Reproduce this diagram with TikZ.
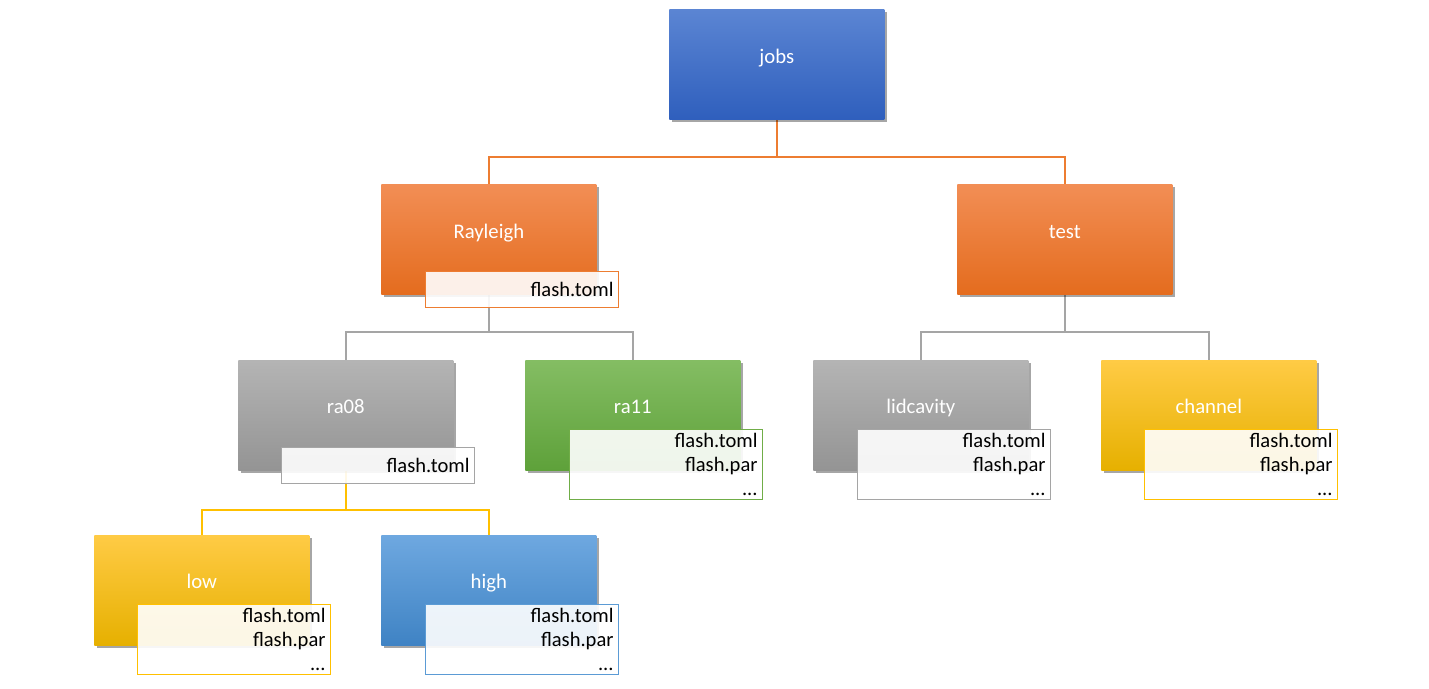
\documentclass[tikz,border=0pt]{standalone}
\usepackage{fontspec}
\setmainfont{Carlito}
\usetikzlibrary{shadows,calc}
\pgfdeclarelayer{background}
\pgfsetlayers{background,main}
\definecolor{bluetop}{HTML}{5B85D3}
\definecolor{bluebot}{HTML}{2F5FBD}
\definecolor{orgtop}{HTML}{F28E55}
\definecolor{orgmid}{HTML}{F07A2E}
\definecolor{orgbot}{HTML}{E46C1E}
\definecolor{graytop}{HTML}{B4B4B4}
\definecolor{graybot}{HTML}{949494}
\definecolor{grntop}{HTML}{84BD63}
\definecolor{grnbot}{HTML}{5EA13A}
\definecolor{yeltop}{HTML}{FFCB45}
\definecolor{yelmid}{HTML}{FFC400}
\definecolor{yelbot}{HTML}{E6B000}
\definecolor{lbtop}{HTML}{6EA8E0}
\definecolor{lbbot}{HTML}{3F83C4}
\definecolor{corg}{HTML}{ED7D31}
\definecolor{cgray}{HTML}{A5A5A5}
\definecolor{cgrn}{HTML}{70AD47}
\definecolor{cyel}{HTML}{FFC000}
\definecolor{cblue}{HTML}{5B9BD5}
\begin{document}
\begin{tikzpicture}[x=0.02cm,y=-0.02cm,
  box/.style={rectangle, minimum width=4.3cm, minimum height=2.2cm, inner sep=0pt, anchor=north west,
    drop shadow={shadow xshift=1.5pt, shadow yshift=-1.5pt, opacity=0.35, fill=black}},
  lbl/.style={text=white, font=\fontsize{11.8}{14}\selectfont, inner sep=0pt, text height=1.65ex, text depth=0.5ex},
  filebox/.style={rectangle, draw=#1, line width=0.6pt, fill=white, fill opacity=0.9, text opacity=1,
    anchor=north west, minimum width=3.86cm, text width=3.86cm-5.6pt, inner xsep=2.8pt, inner ysep=0pt,
    align=right, font=\fontsize{11.7}{13.6}\selectfont},
  conn/.style={line width=1.1pt, draw=#1}
]
\useasboundingbox (0,0) rectangle (1429,689);
% main boxes
\node[box, top color=bluetop, bottom color=bluebot] (jobs) at (669,9) {};
\node[box, top color=orgtop, middle color=orgmid, bottom color=orgbot] (ray) at (381,184) {};
\node[box, top color=orgtop, middle color=orgmid, bottom color=orgbot] (test) at (957,184) {};
\node[box, top color=graytop, bottom color=graybot] (ra08) at (238,360) {};
\node[box, top color=grntop, bottom color=grnbot] (ra11) at (525,360) {};
\node[box, top color=graytop, bottom color=graybot] (lid) at (813,360) {};
\node[box, top color=yeltop, middle color=yelmid, bottom color=yelbot] (chan) at (1101,360) {};
\node[box, top color=yeltop, middle color=yelmid, bottom color=yelbot] (low) at (94,535) {};
\node[box, top color=lbtop, bottom color=lbbot] (high) at (381,535) {};
% labels
\node[lbl] (jobsl) at ($(jobs.north)+(0,50)$) {jobs};
\node[lbl] (rayl) at ($(ray.north)+(0,50)$) {Rayleigh};
\node[lbl] (testl) at ($(test.north)+(0,50)$) {test};
\node[lbl] (ra08l) at ($(ra08.north)+(0,49)$) {ra08};
\node[lbl] (ra11l) at ($(ra11.north)+(0,49)$) {ra11};
\node[lbl] (lidl) at ($(lid.north)+(0,49)$) {lidcavity};
\node[lbl] (chanl) at ($(chan.north)+(0,49)$) {channel};
\node[lbl] (lowl) at ($(low.north)+(0,49)$) {low};
\node[lbl] (highl) at ($(high.north)+(0,49)$) {high};
% file boxes
\node[filebox=corg, minimum height=0.72cm] (rayf) at (425,271) {flash.toml};
\node[filebox=cgray, minimum height=0.72cm] (ra08f) at (281,447) {flash.toml};
\node[filebox=cgrn, minimum height=1.4cm] (ra11f) at (569,429) {flash.toml\\flash.par\\...};
\node[filebox=cgray, minimum height=1.4cm] (lidf) at (857,429) {flash.toml\\flash.par\\...};
\node[filebox=cyel, minimum height=1.4cm] (chanf) at (1144,429) {flash.toml\\flash.par\\...};
\node[filebox=cyel, minimum height=1.4cm] (lowf) at (137,604) {flash.toml\\flash.par\\...};
\node[filebox=cblue, minimum height=1.4cm] (highf) at (425,604) {flash.toml\\flash.par\\...};
% connectors
\begin{pgfonlayer}{background}
\draw[conn=corg] (jobs.south) -- ++(0,37) -| (ray.north);
\draw[conn=corg] (jobs.south) -- ++(0,37) -| (test.north);
\draw[conn=cgray] (ray.south) -- ++(0,37) -| (ra08.north);
\draw[conn=cgray] (ray.south) -- ++(0,37) -| (ra11.north);
\draw[conn=cgray] (test.south) -- ++(0,37) -| (lid.north);
\draw[conn=cgray] (test.south) -- ++(0,37) -| (chan.north);
\draw[conn=cyel] (ra08.south) -- ++(0,39) -| (low.north);
\draw[conn=cyel] (ra08.south) -- ++(0,39) -| (high.north);
\end{pgfonlayer}
\end{tikzpicture}
\end{document}
